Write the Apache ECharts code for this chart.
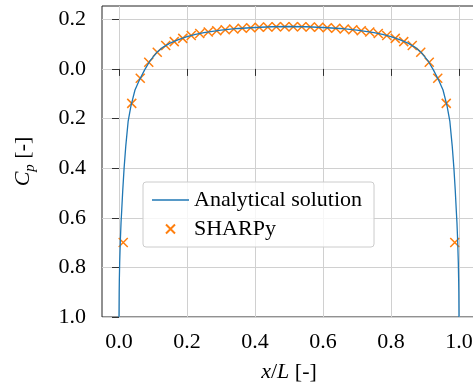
<!DOCTYPE html>
<html>
<head>
<meta charset="utf-8">
<script src="https://cdn.jsdelivr.net/npm/echarts@6/dist/echarts.min.js"></script>
<style>
  html, body { margin: 0; padding: 0; background: #fff; }
  #chart { width: 473px; height: 386px; }
</style>
</head>
<body>
<div id="chart"></div>
<script>
// analytical Cp along the chord
const analyticX = [0, 0.0005, 0.001, 0.002, 0.004, 0.006, 0.008, 0.011, 0.015, 0.02, 0.027, 0.035, 0.047, 0.06, 0.075, 0.09,
  0.11, 0.13, 0.15, 0.175, 0.2, 0.225, 0.25, 0.3, 0.35, 0.4, 0.45, 0.5,
  0.55, 0.6, 0.65, 0.7, 0.75, 0.775, 0.8, 0.825, 0.85, 0.87, 0.89, 0.91, 0.925, 0.94, 0.953, 0.965, 0.973, 0.98,
  0.985, 0.989, 0.992, 0.994, 0.996, 0.998, 0.999, 0.9995, 1];
const analyticCp = [1.0, 0.9, 0.85, 0.78, 0.69, 0.62, 0.57, 0.49, 0.4, 0.31, 0.21, 0.15, 0.085, 0.045, 0.005, -0.03,
  -0.065, -0.088, -0.104, -0.118, -0.13, -0.139, -0.146, -0.156, -0.163, -0.167, -0.17, -0.171,
  -0.17, -0.167, -0.163, -0.156, -0.146, -0.139, -0.13, -0.118, -0.104, -0.088, -0.065, -0.03, 0.005, 0.045, 0.085, 0.15, 0.21, 0.31,
  0.4, 0.49, 0.57, 0.62, 0.69, 0.78, 0.85, 0.9, 1.0];

// SHARPy panel results
const sharpyX = [0.0125, 0.0375, 0.0625, 0.0875, 0.1125, 0.1375, 0.1625, 0.1875, 0.2125, 0.2375,
  0.2625, 0.2875, 0.3125, 0.3375, 0.3625, 0.3875, 0.4125, 0.4375, 0.4625, 0.4875,
  0.5125, 0.5375, 0.5625, 0.5875, 0.6125, 0.6375, 0.6625, 0.6875, 0.7125, 0.7375,
  0.7625, 0.7875, 0.8125, 0.8375, 0.8625, 0.8875, 0.9125, 0.9375, 0.9625, 0.9875];
const sharpyCp = [0.70, 0.139, 0.038, -0.027, -0.067, -0.094, -0.110, -0.123, -0.135, -0.143,
  -0.149, -0.154, -0.158, -0.161, -0.164, -0.166, -0.168, -0.169, -0.170, -0.170,
  -0.170, -0.170, -0.169, -0.168, -0.166, -0.164, -0.161, -0.158, -0.154, -0.149,
  -0.143, -0.135, -0.123, -0.110, -0.094, -0.067, -0.027, 0.038, 0.139, 0.70];

const xTicks = [0, 0.2, 0.4, 0.6, 0.8, 1.0];
const yTicks = [-0.2, 0, 0.2, 0.4, 0.6, 0.8, 1.0];

const FONT = '"Liberation Serif", "DejaVu Serif", serif';
const BLUE = '#1f77b4';
const ORANGE = '#ff7f0e';

const chart = echarts.init(document.getElementById('chart'));
chart.setOption({
  animation: false,
  textStyle: { fontFamily: FONT, color: '#000' },
  grid: {
    left: 102,
    right: -3,
    top: 6,
    bottom: 69,
    show: true,
    borderColor: '#222',
    borderWidth: 1,
    outerBoundsMode: 'none'
  },
  legend: {
    orient: 'vertical',
    left: 143,
    top: 182,
    padding: [7, 12, 7, 9],
    itemWidth: 37,
    itemHeight: 9,
    itemGap: 7,
    borderColor: '#cccccc',
    borderWidth: 1,
    borderRadius: 3,
    backgroundColor: 'rgba(255,255,255,0.8)',
    textStyle: { fontFamily: FONT, fontSize: 22, color: '#000' },
    data: [
      // plain line sample, no marker
      { name: 'Analytical solution', icon: 'path://M0,0L37,0L37,1.3L0,1.3Z' },
      'SHARPy'
    ]
  },
  xAxis: {
    type: 'value',
    min: -0.05,
    max: 1.05,
    splitNumber: 5,
    name: '{it|x}/{it|L} [-]',
    nameLocation: 'middle',
    nameGap: 44,
    nameTextStyle: {
      fontFamily: FONT, fontSize: 22, color: '#000',
      rich: { it: { fontFamily: FONT, fontSize: 22, fontStyle: 'italic', color: '#000' } }
    },
    axisLine: { show: false },
    axisTick: { show: true, length: 7, inside: false, customValues: xTicks, lineStyle: { color: '#333', width: 1 } },
    axisLabel: {
      customValues: xTicks,
      margin: 14,
      fontFamily: FONT, fontSize: 22, color: '#000',
      formatter: v => v.toFixed(1)
    },
    splitLine: { show: true, lineStyle: { color: '#d0d0d0', width: 1 } }
  },
  yAxis: {
    type: 'value',
    inverse: true,
    min: -0.2536,
    max: 1.0,
    splitNumber: 6,
    name: '{it|C}{sub|p}{n| [-]}',
    nameLocation: 'middle',
    nameGap: 64,
    nameRotate: 90,
    nameTextStyle: {
      fontFamily: FONT, fontSize: 22, color: '#000',
      rich: {
        it: { fontFamily: FONT, fontSize: 22, fontStyle: 'italic', color: '#000', lineHeight: 26, verticalAlign: 'top' },
        sub: { fontFamily: FONT, fontSize: 15, fontStyle: 'italic', color: '#000', lineHeight: 12, verticalAlign: 'bottom' },
        n: { fontFamily: FONT, fontSize: 22, color: '#000', lineHeight: 26, verticalAlign: 'top' }
      }
    },
    axisLine: { show: false },
    axisTick: { show: true, length: 7, inside: false, customValues: yTicks, lineStyle: { color: '#333', width: 1 } },
    axisLabel: {
      customValues: yTicks,
      margin: 16,
      fontFamily: FONT, fontSize: 22, color: '#000',
      // reference prints the labels without a minus sign
      formatter: v => Math.abs(v).toFixed(1)
    },
    splitLine: { show: true, lineStyle: { color: '#d0d0d0', width: 1 } }
  },
  series: [
    {
      name: 'Analytical solution',
      type: 'line',
      symbol: 'none',
      smooth: false,
      clip: true,
      lineStyle: { color: BLUE, width: 1.3 },
      itemStyle: { color: BLUE },
      data: analyticX.map((x, i) => [x, analyticCp[i]])
    },
    {
      name: 'SHARPy',
      type: 'scatter',
      symbol: 'path://M0,0L10,10M10,0L0,10',
      symbolSize: 9,
      symbolKeepAspect: true,
      itemStyle: { color: ORANGE, borderColor: ORANGE, borderWidth: 1.5, opacity: 1 },
      data: sharpyX.map((x, i) => [x, sharpyCp[i]])
    }
  ]
});
</script>
</body>
</html>
